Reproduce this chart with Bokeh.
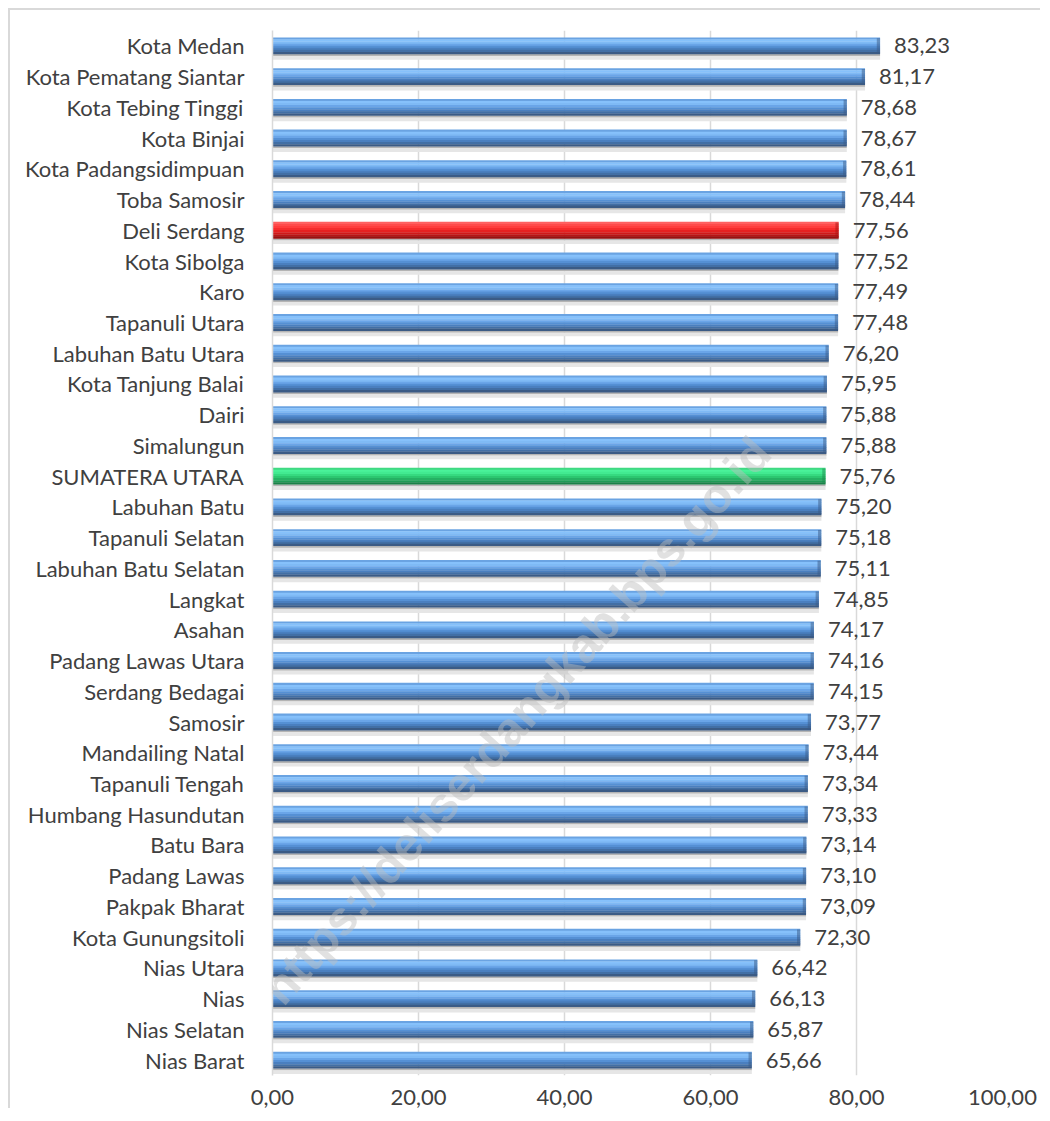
import math
from bokeh.plotting import figure
from bokeh.models import (ColumnDataSource, FactorRange, Range1d, FixedTicker,
                          CustomJSTickFormatter, Label)
from bokeh.transform import dodge
from bokeh.core.properties import value
from bokeh.embed import file_html
from bokeh.resources import INLINE

# ---------------- data ----------------
regions = [
    "Kota Medan", "Kota Pematang Siantar", "Kota Tebing Tinggi", "Kota Binjai",
    "Kota Padangsidimpuan", "Toba Samosir", "Deli Serdang", "Kota Sibolga", "Karo",
    "Tapanuli Utara", "Labuhan Batu Utara", "Kota Tanjung Balai", "Dairi",
    "Simalungun", "SUMATERA UTARA", "Labuhan Batu", "Tapanuli Selatan",
    "Labuhan Batu Selatan", "Langkat", "Asahan", "Padang Lawas Utara",
    "Serdang Bedagai", "Samosir", "Mandailing Natal", "Tapanuli Tengah",
    "Humbang Hasundutan", "Batu Bara", "Padang Lawas", "Pakpak Bharat",
    "Kota Gunungsitoli", "Nias Utara", "Nias", "Nias Selatan", "Nias Barat",
]
ipm = [
    83.23, 81.17, 78.68, 78.67, 78.61, 78.44, 77.56, 77.52, 77.49, 77.48,
    76.20, 75.95, 75.88, 75.88, 75.76, 75.20, 75.18, 75.11, 74.85, 74.17,
    74.16, 74.15, 73.77, 73.44, 73.34, 73.33, 73.14, 73.10, 73.09, 72.30,
    66.42, 66.13, 65.87, 65.66,
]
red_region = "Deli Serdang"
green_region = "SUMATERA UTARA"
x_ticks = [0, 20, 40, 60, 80, 100]
watermark = "https://deliserdangkab.bps.go.id"

# ---------------- styles ----------------
BLUE = ["#6aa3e2", "#86c1fb", "#7fbaf5", "#6aa5e8", "#5590d4", "#4a7fbf", "#426fa5", "#3b5b85"]
RED = ["#ff6060", "#ff4a4a", "#ff3c3c", "#f52c2c", "#e62020", "#d01818", "#b81414", "#961010"]
GREEN = ["#3fd982", "#4af29a", "#42ea91", "#36da80", "#2cc770", "#25b163", "#1f9b56", "#1a8148"]
CAP = {"blue": "#3a5a86", "red": "#a81212", "green": "#1b8a4c"}
TXT = "#404040"
GRID = "#d9d9d9"
FONT = "Lato"
FS = "22px"

kinds = ["red" if r == red_region else "green" if r == green_region else "blue" for r in regions]
pal = {"blue": BLUE, "red": RED, "green": GREEN}

data = dict(
    name=regions,
    value=ipm,
    label=[f"{v:.2f}".replace(".", ",") for v in ipm],
    cap_left=[v - 0.45 for v in ipm],
    cap=[CAP[k] for k in kinds],
)
NS = 8
for i in range(NS):
    data[f"c{i}"] = [pal[k][i] for k in kinds]
src = ColumnDataSource(data)

p = figure(
    y_range=FactorRange(factors=regions[::-1]),
    x_range=Range1d(0, 100),
    width=1032, height=1100,
    output_backend="svg", toolbar_location=None,
    min_border_left=262, min_border_right=40,
    min_border_top=20, min_border_bottom=35,
)
p.styles = {"border-top": "2px solid #d9d9d9", "border-left": "2px solid #d9d9d9",
            "margin-left": "8px", "margin-top": "8px"}
p.outline_line_color = None
p.background_fill_color = "white"
p.border_fill_color = "white"

# shadows
p.hbar(y=dodge("name", -0.30, range=p.y_range), height=0.07, left=0, right="value",
       source=src, fill_color="#b4b4b4", line_color=None)
p.hbar(y=dodge("name", -0.39, range=p.y_range), height=0.12, left=0, right="value",
       source=src, fill_color="#e6e6e6", line_color=None)

# gradient slices of the bars
half = 0.27
sh = 2 * half / NS
for i in range(NS):
    off = half - sh * (i + 0.5)
    p.hbar(y=dodge("name", off, range=p.y_range), height=sh * 1.15, left=0, right="value",
           source=src, fill_color=f"c{i}", line_color=None)

# darker rounded end
p.hbar(y="name", height=0.5, left="cap_left", right="value", source=src,
       fill_color="cap", fill_alpha=0.5, line_color=None)

# value labels
p.text(x="value", y="name", text="label", source=src, x_offset=14,
       text_baseline="middle", text_align="left",
       text_font=value(FONT), text_font_size=FS, text_color=TXT)

# axes
p.xaxis.ticker = FixedTicker(ticks=x_ticks)
p.xaxis.formatter = CustomJSTickFormatter(code="return tick.toFixed(2).replace('.', ',');")
p.xaxis.axis_line_color = None
p.xaxis.major_tick_line_color = None
p.xaxis.minor_tick_line_color = None
p.xaxis.major_label_text_font = FONT
p.xaxis.major_label_text_font_size = FS
p.xaxis.major_label_text_color = TXT
p.xaxis.major_label_standoff = 8

p.yaxis.axis_line_color = GRID
p.yaxis.axis_line_width = 1.5
p.yaxis.major_tick_line_color = None
p.yaxis.minor_tick_line_color = None
p.yaxis.major_label_text_font = FONT
p.yaxis.major_label_text_font_size = FS
p.yaxis.major_label_text_color = TXT
p.yaxis.major_label_standoff = 22

p.xgrid.ticker = FixedTicker(ticks=x_ticks)
p.xgrid.grid_line_color = GRID
p.xgrid.grid_line_width = 1.5
p.ygrid.grid_line_color = None

# watermark
wm = Label(x=33.4, y=11.55, text=watermark, angle=math.radians(48.4),
           text_align="center", text_baseline="middle",
           text_font="Liberation Sans", text_font_style="bold", text_font_size="48px",
           text_color="#bdbdbd", text_alpha=0.45)
p.add_layout(wm)

open("out.html", "w").write(file_html(p, INLINE))
